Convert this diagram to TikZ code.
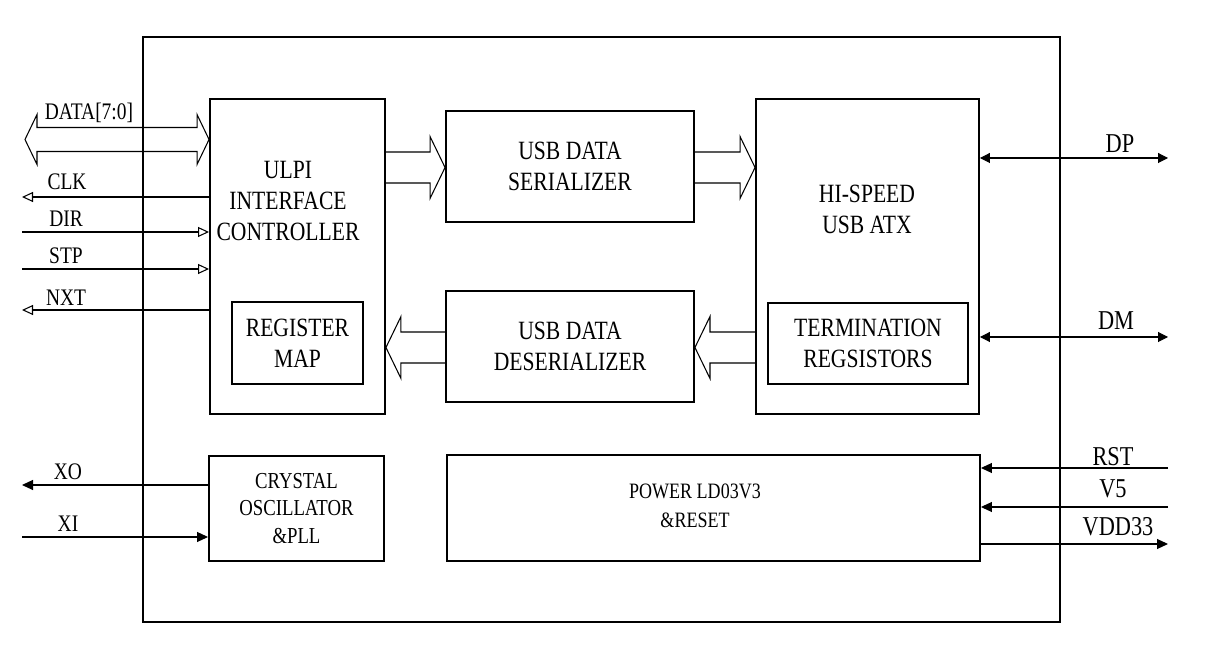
\documentclass[tikz,border=0pt]{standalone}
\usepackage{fontspec}
\setmainfont{Liberation Serif}[FakeStretch=0.82]
\usetikzlibrary{arrows.meta, calc}

\newcommand{\px}{0.02cm}
% wide bus arrow: tail, tip, shaft half width, head half width, head length (signed)
\newcommand{\fatarrow}[5]{%
  \draw[fat] ($(#1)+(0,-#3)$) -- ($(#2)+(-#5,-#3)$) -- ($(#2)+(-#5,-#4)$) -- (#2)
    -- ($(#2)+(-#5,#4)$) -- ($(#2)+(-#5,#3)$) -- ($(#1)+(0,#3)$);}

\tikzset{
  blk/.style={draw, line width=1.1pt, inner sep=0pt},
  txt/.style={font=\fontsize{15}{17.6}\selectfont, align=center},
  small/.style={font=\fontsize{13}{15.4}\selectfont, align=center},
  pin/.style={font=\fontsize{13.5}{15}\selectfont},
  pinr/.style={font=\fontsize{15.5}{17}\selectfont},
  sig/.style={line width=0.6pt},
  fat/.style={line width=0.6pt},
  open/.style={-{Triangle[open, length=11*\px, width=10*\px]}},
  solid/.style={-{Triangle[length=11*\px, width=10*\px]}},
}

\begin{document}
\begin{tikzpicture}[x=0.02cm, y=-0.02cm]
  \useasboundingbox (0,0) rectangle (1217,671);
  % Chip outline
  \draw[line width=1.4pt] (143,37) rectangle (1060,622);

  % Blocks
  \node[blk, minimum width=175*\px, minimum height=315*\px] (ulpi) at (297.5,256.5) {};
  \node[txt] (ulpitxt) at (288,201) {ULPI\\INTERFACE\\CONTROLLER};
  \node[blk, minimum width=131*\px, minimum height=82*\px, txt] (regmap) at (297.5,343) {REGISTER\\MAP};
  \node[blk, minimum width=248*\px, minimum height=111*\px, txt] (ser) at (570,166.5) {USB DATA\\SERIALIZER};
  \node[blk, minimum width=248*\px, minimum height=111*\px, txt] (deser) at (570,346.5) {USB DATA\\DESERIALIZER};
  \node[blk, minimum width=223*\px, minimum height=315*\px] (atx) at (867.5,256.5) {};
  \node[txt] (atxtxt) at (867,209) {HI-SPEED\\USB ATX};
  \node[blk, minimum width=200*\px, minimum height=81*\px, txt] (term) at (868,343.5) {TERMINATION\\REGSISTORS};
  \node[blk, minimum width=175*\px, minimum height=105*\px, small] (xtal) at (296.5,508.5) {CRYSTAL\\OSCILLATOR\\\&PLL};
  \node[blk, minimum width=533*\px, minimum height=106*\px] (pwr) at (713.5,508) {};
  \node[small, font=\fontsize{12.5}{16.5}\selectfont] (pwrtxt) at (695,506) {POWER LD03V3\\\&RESET};

  % Wide data paths
  \coordinate (s1) at (ulpi.east |- 0,167.5);
  \coordinate (s2) at (ser.west |- 0,167.5);
  \coordinate (s3) at (ser.east |- 0,167.5);
  \coordinate (s4) at (atx.west |- 0,167.5);
  \coordinate (d1) at (atx.west |- 0,347.5);
  \coordinate (d2) at (deser.east |- 0,347.5);
  \coordinate (d3) at (deser.west |- 0,347.5);
  \coordinate (d4) at (ulpi.east |- 0,347.5);
  \fatarrow{s1}{s2}{15.5}{31}{15}
  \fatarrow{s3}{s4}{15.5}{31}{15}
  \fatarrow{d1}{d2}{15.5}{31}{-15}
  \fatarrow{d3}{d4}{15.5}{31}{-15}
  \coordinate (dataend) at (25,139.5);
  \coordinate (datatip) at (ulpi.west |- dataend);
  \draw[fat] (dataend) -- ++(12,-25) -- ++(0,13) -- ($(datatip)+(-12,-12)$) -- ++(0,-13)
    -- (datatip) -- ++(-12,25) -- ++(0,-13) -- ($(dataend)+(12,12)$) -- ++(0,13) -- cycle;
  \node[pin] (datalbl) at (89,113) {DATA[7:0]};

  % ULPI control pins
  \coordinate (clkend) at (22,197);
  \coordinate (dirend) at (22,232);
  \coordinate (stpend) at (22,269);
  \coordinate (nxtend) at (22,310);
  \draw[sig, open] (ulpi.west |- clkend) -- (clkend);
  \draw[sig, open] (dirend) -- (ulpi.west |- dirend);
  \draw[sig, open] (stpend) -- (ulpi.west |- stpend);
  \draw[sig, open] (ulpi.west |- nxtend) -- (nxtend);
  \node[pin] (clklbl) at (67,182) {CLK};
  \node[pin] (dirlbl) at (66,219) {DIR};
  \node[pin] (stplbl) at (66,256) {STP};
  \node[pin] (nxtlbl) at (66,298) {NXT};

  % Clock pins
  \coordinate (xoend) at (22,485);
  \coordinate (xiend) at (22,537);
  \draw[sig, solid] (xtal.west |- xoend) -- (xoend);
  \draw[sig, solid] (xiend) -- (xtal.west |- xiend);
  \node[pin] (xolbl) at (68,472) {XO};
  \node[pin] (xilbl) at (68,524) {XI};

  % USB lines
  \coordinate (dpend) at (1168,158);
  \coordinate (dmend) at (1168,337);
  \draw[sig, {Triangle[length=10*\px, width=10*\px]}-{Triangle[length=10*\px, width=10*\px]}] (atx.east |- dpend) -- (dpend);
  \draw[sig, {Triangle[length=10*\px, width=10*\px]}-{Triangle[length=10*\px, width=10*\px]}] (atx.east |- dmend) -- (dmend);
  \node[pinr] (dplbl) at (1120,144) {DP};
  \node[pinr] (dmlbl) at (1116,321) {DM};

  % Power pins
  \coordinate (rstend) at (1168,468);
  \coordinate (v5end) at (1168,507);
  \coordinate (vddend) at (1168,544);
  \draw[sig, solid] (rstend) -- (pwr.east |- rstend);
  \draw[sig, solid] (v5end) -- (pwr.east |- v5end);
  \draw[sig, solid] (pwr.east |- vddend) -- (vddend);
  \node[pinr] (rstlbl) at (1113,457) {RST};
  \node[pinr] (v5lbl) at (1113,489) {V5};
  \node[pinr] (vddlbl) at (1118,527) {VDD33};
\end{tikzpicture}
\end{document}
